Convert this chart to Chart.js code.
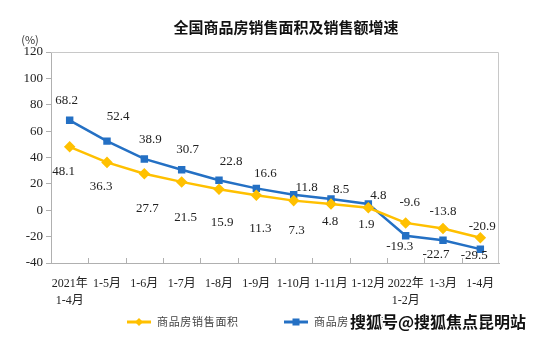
<!DOCTYPE html>
<html lang="zh">
<head>
<meta charset="UTF-8">
<title>全国商品房销售面积及销售额增速</title>
<script src="https://cdn.jsdelivr.net/npm/chart.js"></script>
<style>
  html, body { margin: 0; padding: 0; background: #fff; }
  #wrap { width: 554px; height: 338px; position: relative; }
</style>
</head>
<body>
<div id="wrap"><canvas id="chart"></canvas></div>
<script>
// categories (two-line tick labels)
const categories = [
  ['2021年', '1-4月'], '1-5月', '1-6月', '1-7月', '1-8月', '1-9月',
  '1-10月', '1-11月', '1-12月', ['2022年', '1-2月'], '1-3月', '1-4月'
];
const areaGrowth  = [48.1, 36.3, 27.7, 21.5, 15.9, 11.3, 7.3, 4.8, 1.9, -9.6, -13.8, -20.9];
const salesGrowth = [68.2, 52.4, 38.9, 30.7, 22.8, 16.6, 11.8, 8.5, 4.8, -19.3, -22.7, -29.5];
const seriesNames = ['商品房销售面积', '商品房销售额'];
const yTicks = [-40, -20, 0, 20, 40, 60, 80, 100, 120];

const YELLOW = '#FFC000';
const BLUE = '#2470C4';
const SERIF = '"Liberation Serif", "Times New Roman", "Noto Sans CJK SC", serif';
const CJK = '"Noto Sans CJK SC", sans-serif';

// label offsets relative to each point [dx, dy]
const areaLabelOff = [[-6,25],[-6,24],[3,35],[4,36],[3,33],[4,33],[3,30],[-1,18],[-2,17],[4,-20],[0,-17],[2,-11]];
const salesLabelOff = [[-3,-20],[11,-25],[6,-19],[6,-20],[12,-19],[9,-15],[13,-7],[10,-9],[10,-8],[-6,11],[-7,14],[-6,6]];

const extras = {
  id: 'extras',
  afterDraw(chart) {
    const ctx = chart.ctx;
    const a = chart.chartArea;
    ctx.save();
    // top and right frame
    ctx.strokeStyle = '#c8c8c8';
    ctx.lineWidth = 1;
    ctx.beginPath();
    ctx.moveTo(a.left, a.top + 0.5);
    ctx.lineTo(a.right - 0.5, a.top + 0.5);
    ctx.lineTo(a.right - 0.5, a.bottom);
    ctx.stroke();
    // x tick marks pointing up, between categories
    const xs = chart.scales.x;
    ctx.strokeStyle = '#b0b0b0';
    ctx.beginPath();
    for (let i = 1; i < categories.length; i++) {
      const x = Math.round((xs.getPixelForValue(i - 1) + xs.getPixelForValue(i)) / 2) + 0.5;
      ctx.moveTo(x, a.bottom);
      ctx.lineTo(x, a.bottom - 5);
    }
    ctx.stroke();

    // data labels
    ctx.fillStyle = '#222';
    ctx.font = '13px ' + SERIF;
    ctx.textAlign = 'center';
    ctx.textBaseline = 'middle';
    const draw = (dsIndex, values, offs) => {
      const meta = chart.getDatasetMeta(dsIndex);
      meta.data.forEach((pt, i) => {
        ctx.fillText(values[i].toFixed(1), pt.x + offs[i][0], pt.y + offs[i][1]);
      });
    };
    draw(0, areaGrowth, areaLabelOff);
    draw(1, salesGrowth, salesLabelOff);

    // title and unit
    ctx.font = 'bold 15px ' + CJK;
    ctx.fillStyle = '#111';
    ctx.fillText('全国商品房销售面积及销售额增速', 286, 27);
    ctx.font = '11px ' + CJK;
    ctx.fillStyle = '#333';
    ctx.fillText('(%)', 30, 40);

    // legend
    const legendY = 322;
    const items = [
      { x: 127, color: YELLOW, style: 'diamond', text: seriesNames[0] },
      { x: 284, color: BLUE, style: 'square', text: seriesNames[1] }
    ];
    items.forEach(it => {
      ctx.strokeStyle = it.color;
      ctx.fillStyle = it.color;
      ctx.lineWidth = 3;
      ctx.beginPath();
      ctx.moveTo(it.x, legendY);
      ctx.lineTo(it.x + 24, legendY);
      ctx.stroke();
      const cx = it.x + 12;
      ctx.beginPath();
      if (it.style === 'diamond') {
        ctx.moveTo(cx, legendY - 4); ctx.lineTo(cx + 4, legendY);
        ctx.lineTo(cx, legendY + 4); ctx.lineTo(cx - 4, legendY);
        ctx.closePath(); ctx.fill();
      } else {
        ctx.fillRect(cx - 3.5, legendY - 3.5, 7, 7);
      }
      ctx.fillStyle = '#444';
      ctx.font = '11px ' + CJK;
      ctx.textAlign = 'left';
      ctx.fillText(it.text.split('').join('\u200A'), it.x + 30, legendY);
    });

    // watermark
    ctx.font = 'bold 16px ' + CJK;
    ctx.textAlign = 'left';
    ctx.lineWidth = 3;
    ctx.strokeStyle = '#fff';
    ctx.strokeText('搜狐号@搜狐焦点昆明站', 350, 322);
    ctx.fillStyle = '#111';
    ctx.fillText('搜狐号@搜狐焦点昆明站', 350, 322);
    ctx.restore();
  }
};

new Chart(document.getElementById('chart'), {
  type: 'line',
  data: {
    labels: categories,
    datasets: [
      {
        label: seriesNames[0],
        data: areaGrowth,
        borderColor: YELLOW,
        backgroundColor: YELLOW,
        borderWidth: 2.5,
        pointStyle: 'rectRot',
        pointRadius: 4,
        tension: 0
      },
      {
        label: seriesNames[1],
        data: salesGrowth,
        borderColor: BLUE,
        backgroundColor: BLUE,
        borderWidth: 2.5,
        pointStyle: 'rect',
        pointRadius: 3.5,
        tension: 0
      }
    ]
  },
  options: {
    responsive: true,
    maintainAspectRatio: false,
    animation: false,
    events: [],
    layout: { padding: { left: 0, right: 55, top: 52, bottom: 0 } },
    plugins: {
      legend: { display: false },
      title: { display: false },
      tooltip: { enabled: false }
    },
    scales: {
      x: {
        offset: true,
        grid: { display: true, drawOnChartArea: false, drawTicks: false, color: '#b0b0b0' },
        border: { color: '#b0b0b0' },
        ticks: {
          autoSkip: false,
          maxRotation: 0,
          padding: 12,
          color: '#222',
          font: { family: SERIF, size: 12, lineHeight: 1.45 }
        },
        afterFit(scale) { scale.height = 75; }
      },
      y: {
        min: -40,
        max: 120,
        afterBuildTicks(scale) { scale.ticks = yTicks.map(v => ({ value: v })); },
        grid: { drawOnChartArea: false, drawTicks: true, tickLength: 5, color: '#b0b0b0' },
        border: { color: '#b0b0b0' },
        ticks: {
          padding: 3,
          color: '#222',
          font: { family: SERIF, size: 13 }
        },
        afterFit(scale) { scale.width = 51; }
      }
    }
  },
  plugins: [extras]
});
</script>
</body>
</html>
